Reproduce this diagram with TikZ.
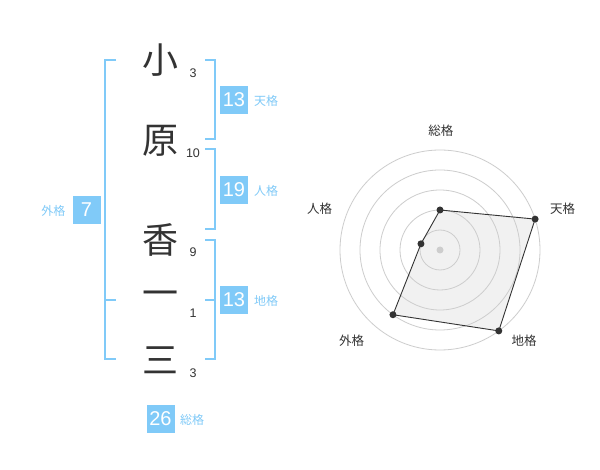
\documentclass[tikz,border=0pt]{standalone}
\usepackage{fontspec}
\setmainfont{Liberation Sans}
\newfontfamily\cjk{Noto Sans CJK JP}
\definecolor{kblue}{RGB}{128,202,248}
\definecolor{kdark}{RGB}{51,51,51}
\definecolor{kring}{RGB}{205,205,205}
\definecolor{kfill}{RGB}{232,232,232}
\begin{document}
\begin{tikzpicture}[x=1pt,y=-1pt,
  kanji/.style={font=\cjk\fontsize{36}{36}\selectfont, text=kdark, inner sep=0pt},
  strokes/.style={font=\fontsize{12.5}{12.5}\selectfont, text=kdark, inner sep=0pt},
  numbox/.style={fill=kblue, text=white, minimum width=28pt, minimum height=28pt, inner sep=0pt, font=\fontsize{20}{20}\selectfont},
  kaku/.style={font=\cjk\fontsize{12}{12}\selectfont, text=kblue, inner sep=0pt},
  bracketline/.style={draw=kblue, line width=2pt},
  radlabel/.style={font=\cjk\fontsize{12.5}{12.5}\selectfont, text=kdark, inner sep=0pt},
  ring/.style={draw=kring, line width=0.8pt},
  dot/.style={circle, fill=kdark, inner sep=0pt, minimum size=7pt}
]
\useasboundingbox (0,0) rectangle (600,470);
\fill[white] (0,0) rectangle (600,470);

% name characters
\node[kanji] (c1) at (160,60) {小};
\node[kanji] (c2) at (160,141) {原};
\node[kanji] (c3) at (160,240) {香};
\node[kanji] (c4) at (160,299) {一};
\node[kanji] (c5) at (160,360) {三};

% stroke counts
\node[strokes] (s1) at (193,73) {3};
\node[strokes] (s2) at (193,153) {10};
\node[strokes] (s3) at (193,252) {9};
\node[strokes] (s4) at (193,313) {1};
\node[strokes] (s5) at (193,373) {3};

% brackets
\draw[bracketline] (116,60) -- (105,60) -- (105,359) -- (116,359);
\draw[bracketline] (105,300) -- (116,300);
\draw[bracketline] (205,60) -- (214.5,60) -- (214.5,139) -- (205,139);
\draw[bracketline] (205,149) -- (214.5,149) -- (214.5,229) -- (205,229);
\draw[bracketline] (205,240) -- (214.5,240) -- (214.5,359) -- (205,359);
\draw[bracketline] (205,300) -- (214.5,300);

% boxes
\node[numbox] (ten) at (234,100) {13};
\node[kaku] (tenl) at (266,101) {天格};
\node[numbox] (jin) at (234,190) {19};
\node[kaku] (jinl) at (266,191) {人格};
\node[numbox] (chi) at (234,300) {13};
\node[kaku] (chil) at (266,301) {地格};
\node[numbox] (gai) at (86.5,210) {7};
\node[kaku] (gail) at (53.5,211) {外格};
\node[numbox] (sou) at (160.5,419) {26};
\node[kaku] (soul) at (192,420) {総格};

% radar chart
\begin{scope}[shift={(440,250)}, y=1pt]
  \coordinate (pS) at (90:40);
  \coordinate (pT) at (18:100);
  \coordinate (pC) at (-54:100);
  \coordinate (pG) at (-126:80);
  \coordinate (pJ) at (162:20);
  \fill[kfill, fill opacity=0.6] (pS) -- (pT) -- (pC) -- (pG) -- (pJ) -- cycle;
  \foreach \r in {20,40,60,80,100} \draw[ring] (0,0) circle (\r);
  \fill[kring] (0,0) circle (3.5);
  \draw[kdark, line width=0.9pt] (pS) -- (pT) -- (pC) -- (pG) -- (pJ) -- cycle;
  \foreach \p in {pS,pT,pC,pG,pJ} \node[dot] at (\p) {};
  \node[radlabel] (lS) at (0.8,119.5) {総格};
  \node[radlabel] (lT) at (122.5,41) {天格};
  \node[radlabel] (lJ) at (-120.5,41) {人格};
  \node[radlabel] (lG) at (-88.3,-91) {外格};
  \node[radlabel] (lC) at (84,-91) {地格};
\end{scope}
\end{tikzpicture}
\end{document}
